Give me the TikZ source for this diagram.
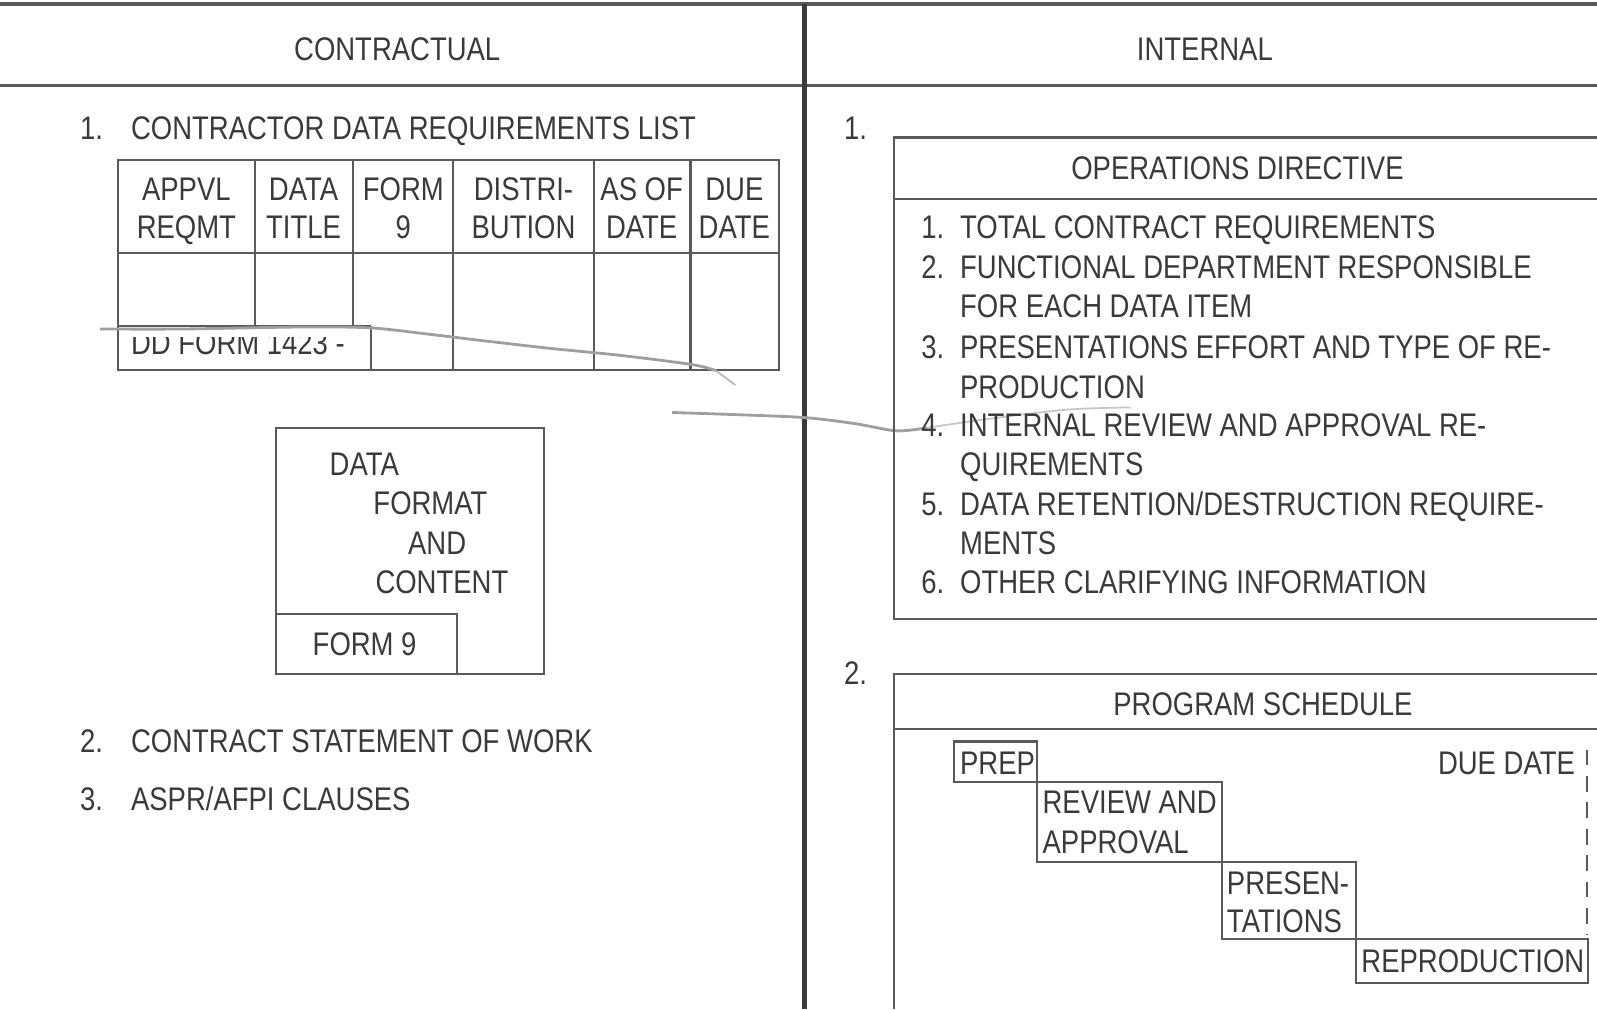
\documentclass[tikz,border=0pt]{standalone}
\usepackage{fontspec}
\setmainfont{Liberation Sans}[FakeStretch=0.84]
\usepackage{xcolor}
\usetikzlibrary{positioning}

\definecolor{ink}{HTML}{3A3A3A}
\definecolor{rulegray}{HTML}{5A5A5A}

\tikzset{
  txt/.style={inner sep=0pt, anchor=base, text=ink, font=\fontsize{9.3}{11}\selectfont},
  ltxt/.style={txt, anchor=base west},
  frame/.style={draw=rulegray, line width=0.6pt},
  heavy/.style={draw=rulegray, line width=1.1pt},
}

\begin{document}
\begin{tikzpicture}[x=0.010185cm, y=-0.010185cm]
	\useasboundingbox (0,0) rectangle (1568,991);
	
	% Page rules
	\draw[heavy] (0,4) -- (1568,4);
	\draw[heavy] (0,84) -- (1568,84);
	\draw[draw=ink, line width=1.3pt] (790,4) -- (790,991);
	
	% Column heads (base lines)
	\node[txt] (contr) at (390,59) {CONTRACTUAL};
	\node[txt] (intern) at (1183,59) {INTERNAL};
	
	% Left column, item 1
	\node[ltxt] (l1n) at (78,137) {1.};
	\node[ltxt] (l1) at (128,137) {CONTRACTOR DATA REQUIREMENTS LIST};
	
	% DD 1423 table
	\draw[frame] (116,157) rectangle (765,363);
	\draw[frame] (116,248) -- (765,248);
	\draw[frame] (116,320) -- (364,320);
	\draw[frame] (250,157) -- (250,320);
	\draw[frame] (347,157) -- (347,320);
	\draw[frame] (364,320) -- (364,363);
	\draw[frame] (445,157) -- (445,363);
	\draw[frame] (583,157) -- (583,363);
	\draw[frame] (678,157) -- (678,363);
	
	\node[txt] (c1a) at (183,197) {APPVL};
	\node[txt] (c1b) at (183,234) {REQMT};
	\node[txt] (c2a) at (298,197) {DATA};
	\node[txt] (c2b) at (298,234) {TITLE};
	\node[txt] (c3a) at (396,197) {FORM};
	\node[txt] (c3b) at (396,234) {9};
	\node[txt] (c4a) at (514,197) {DISTRI-};
	\node[txt] (c4b) at (514,234) {BUTION};
	\node[txt] (c5a) at (630,197) {AS OF};
	\node[txt] (c5b) at (630,234) {DATE};
	\node[txt] (c6a) at (721,197) {DUE};
	\node[txt] (c6b) at (721,234) {DATE};
	
	% Form number, half hidden under the pasted strip
	\begin{scope}
		\clip (118,331) rectangle (362,361);
		\node[ltxt] (ddform) at (128,348) {DD FORM 1423 -};
	\end{scope}
	
	% Fold in the paper
	\draw[gray!75, line width=0.8pt] plot[smooth] coordinates
		{(98,323) (180,323) (300,321) (365,322) (420,328) (470,334) (540,342) (610,349) (680,358) (703,364)};
	\draw[gray!55, line width=0.5pt] (703,364) -- (722,378);
	\draw[gray!75, line width=0.8pt] plot[smooth] coordinates
		{(660,405) (720,407) (790,410) (840,416) (880,423) (910,420)};
	\draw[gray!45, line width=0.5pt] plot[smooth] coordinates
		{(910,420) (980,410) (1050,402) (1110,400)};
	
	% Data format and content
	\draw[frame] (271,420) rectangle (534,662);
	\draw[frame] (271,603) -- (449,603) -- (449,662);
	\node[ltxt] (fmt1) at (323,467) {DATA};
	\node[ltxt] (fmt2) at (366,505) {FORMAT};
	\node[ltxt] (fmt3) at (400,544) {AND};
	\node[ltxt] (fmt4) at (368,583) {CONTENT};
	\node[txt] (form9) at (358,644) {FORM 9};
	
	% Left column, items 2 and 3
	\node[ltxt] (l2n) at (78,739) {2.};
	\node[ltxt] (l2) at (128,739) {CONTRACT STATEMENT OF WORK};
	\node[ltxt] (l3n) at (78,796) {3.};
	\node[ltxt] (l3) at (128,796) {ASPR/AFPI CLAUSES};
	
	% Right column, item 1
	\node[ltxt] (r1n) at (828,137) {1.};
	\draw[frame] (1568,135) -- (878,135) -- (878,608) -- (1568,608);
	\draw[frame] (878,195) -- (1568,195);
	\node[txt] (opdir) at (1215,176) {OPERATIONS DIRECTIVE};
	
	\node[ltxt] (o1n) at (904,234) {1.};
	\node[ltxt] (o1) at (942,234) {TOTAL CONTRACT REQUIREMENTS};
	\node[ltxt] (o2n) at (904,273) {2.};
	\node[ltxt] (o2) at (942,273) {FUNCTIONAL DEPARTMENT RESPONSIBLE};
	\node[ltxt] (o2b) at (942,312) {FOR EACH DATA ITEM};
	\node[ltxt] (o3n) at (904,352) {3.};
	\node[ltxt] (o3) at (942,352) {PRESENTATIONS EFFORT AND TYPE OF RE-};
	\node[ltxt] (o3b) at (942,391) {PRODUCTION};
	\node[ltxt] (o4n) at (904,429) {4.};
	\node[ltxt] (o4) at (942,429) {INTERNAL REVIEW AND APPROVAL RE-};
	\node[ltxt] (o4b) at (942,467) {QUIREMENTS};
	\node[ltxt] (o5n) at (904,506) {5.};
	\node[ltxt] (o5) at (942,506) {DATA RETENTION/DESTRUCTION REQUIRE-};
	\node[ltxt] (o5b) at (942,544) {MENTS};
	\node[ltxt] (o6n) at (904,583) {6.};
	\node[ltxt] (o6) at (942,583) {OTHER CLARIFYING INFORMATION};
	
	% Right column, item 2
	\node[ltxt] (r2n) at (828,672) {2.};
	\draw[frame] (1568,662) -- (878,662) -- (878,991);
	\draw[frame] (878,716) -- (1568,716);
	\node[txt] (sched) at (1240,702) {PROGRAM SCHEDULE};
	
	% Schedule bars
	\draw[frame] (937,728) rectangle (1018,768);
	\node[ltxt] (prep) at (942,760) {PREP};
	\draw[frame] (1018,768) rectangle (1200,846);
	\node[ltxt] (rev1) at (1023,799) {REVIEW AND};
	\node[ltxt] (rev2) at (1023,838) {APPROVAL};
	\draw[frame] (1200,846) rectangle (1331,922);
	\node[ltxt] (pres1) at (1204,878) {PRESEN-};
	\node[ltxt] (pres2) at (1204,916) {TATIONS};
	\draw[frame] (1331,922) rectangle (1559,965);
	\node[ltxt] (repro) at (1336,955) {REPRODUCTION};
	
	% Due date mark
	\node[txt, anchor=base east] (due) at (1547,760) {DUE DATE};
	\coordinate (dueend) at (1558,918);
	\draw[frame, dash pattern=on 4.5pt off 3pt] (1558,736) -- (dueend);
\end{tikzpicture}
\end{document}
